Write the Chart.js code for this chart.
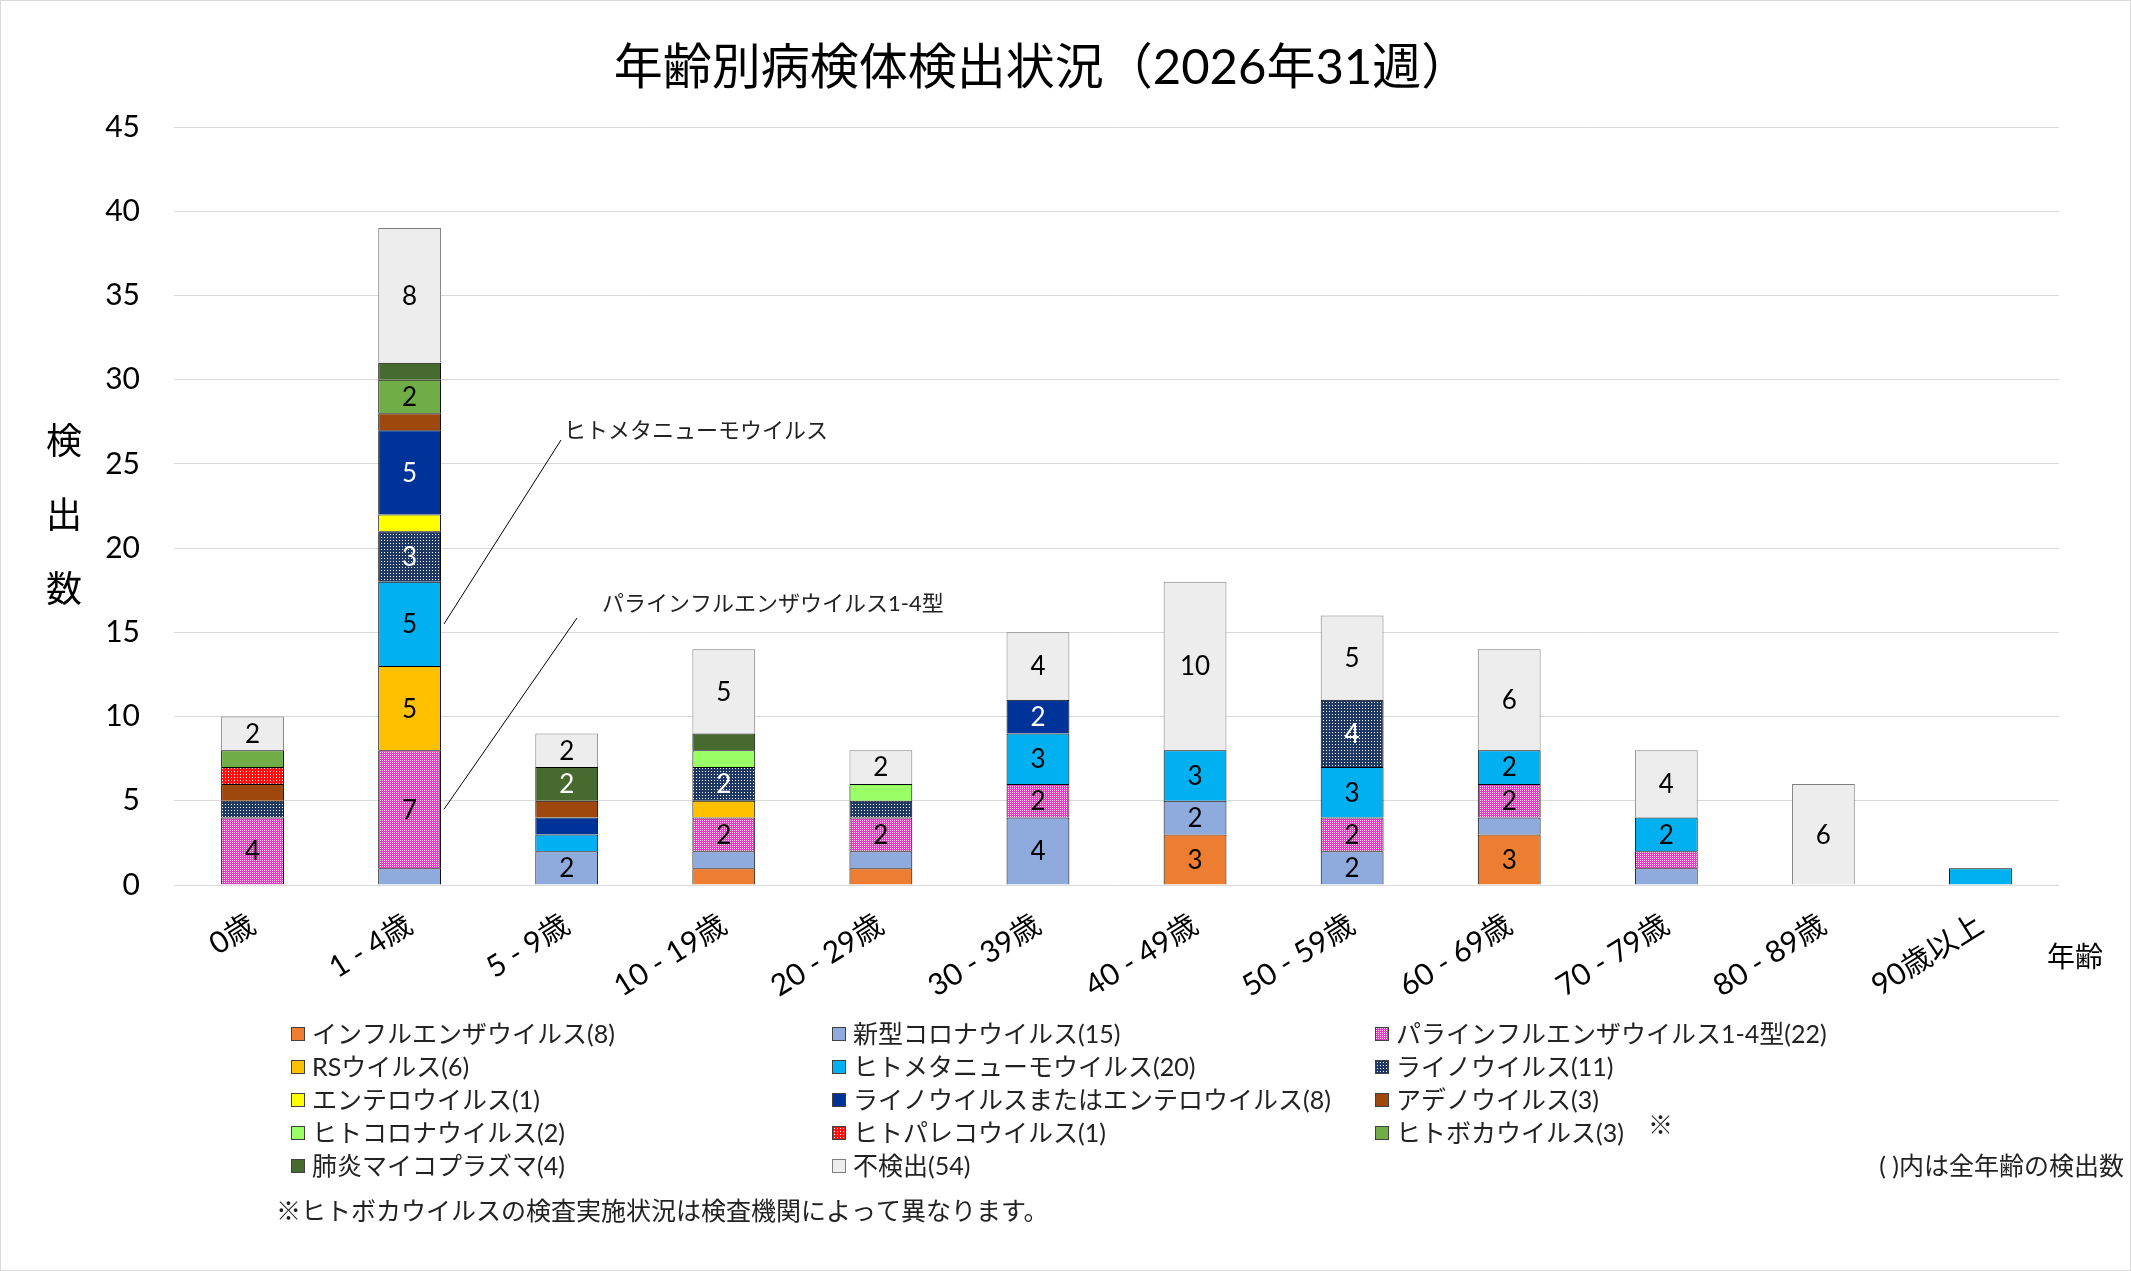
<!DOCTYPE html>
<html><head><meta charset="utf-8">
<script src="https://cdn.jsdelivr.net/npm/chart.js@4.4.1/dist/chart.umd.min.js"></script>
<style>html,body{margin:0;padding:0;background:#fff;}#wrap{position:relative;width:2131px;height:1271px;}</style>
</head><body><div id="wrap"><canvas id="c" width="2131" height="1271"></canvas></div>
<script>
const categories = ['0歳','1 - 4歳','5 - 9歳','10 - 19歳','20 - 29歳','30 - 39歳','40 - 49歳','50 - 59歳','60 - 69歳','70 - 79歳','80 - 89歳','90歳以上'];
const influenza     = [0,0,0,1,1,0,3,0,3,0,0,0];
const covid         = [0,1,2,1,1,4,2,2,1,1,0,0];
const parainfluenza = [4,7,0,2,2,2,0,2,2,1,0,0];
const rsv           = [0,5,0,1,0,0,0,0,0,0,0,0];
const hmpv          = [0,5,1,0,0,3,3,3,2,2,0,1];
const rhino         = [1,3,0,2,1,0,0,4,0,0,0,0];
const entero        = [0,1,0,0,0,0,0,0,0,0,0,0];
const rhinoOrEntero = [0,5,1,0,0,2,0,0,0,0,0,0];
const adeno         = [1,1,1,0,0,0,0,0,0,0,0,0];
const humanCorona   = [0,0,0,1,1,0,0,0,0,0,0,0];
const parecho       = [1,0,0,0,0,0,0,0,0,0,0,0];
const boca          = [1,2,0,0,0,0,0,0,0,0,0,0];
const mycoplasma    = [0,1,2,1,0,0,0,0,0,0,0,0];
const notDetected   = [2,8,2,5,2,4,10,5,6,4,6,0];
const seriesNames = ['インフルエンザウイルス','新型コロナウイルス','パラインフルエンザウイルス1-4型','RSウイルス','ヒトメタニューモウイルス','ライノウイルス','エンテロウイルス','ライノウイルスまたはエンテロウイルス','アデノウイルス','ヒトコロナウイルス','ヒトパレコウイルス','ヒトボカウイルス','肺炎マイコプラズマ','不検出'];
const yTicks = [0,5,10,15,20,25,30,35,40,45];
const titleText = '年齢別病検体検出状況（2026年31週）';
const yTitleChars = ['検','出','数'];
const xTitle = '年齢';
const noteText = '※ヒトボカウイルスの検査実施状況は検査機関によって異なります。';
const noteRight = '( )内は全年齢の検出数';
const annoHmpv = 'ヒトメタニューモウイルス';
const annoPara = 'パラインフルエンザウイルス1-4型';

const FONT = 'Lato, "Noto Sans CJK JP", sans-serif';
const JFONT = '"Noto Sans CJK JP", sans-serif';
const canvas = document.getElementById('c');
const ctx = canvas.getContext('2d');

function pat(base, dot, size, pts){
  const c=document.createElement('canvas'); c.width=c.height=size;
  const x=c.getContext('2d'); x.fillStyle=base; x.fillRect(0,0,size,size);
  x.fillStyle=dot; (pts||[[0,0]]).forEach(p=>x.fillRect(p[0],p[1],1,1));
  return ctx.createPattern(c,'repeat');
}
const seriesData = [influenza,covid,parainfluenza,rsv,hmpv,rhino,entero,rhinoOrEntero,adeno,humanCorona,parecho,boca,mycoplasma,notDetected];
const fills = ['#ED7D31','#8FAADC',pat('#E03CC2','#FFC8F0',2),'#FFC000','#00B0F0',pat('#203864','#FFFFFF',3),'#FFFF00','#003399','#9E480E','#99FF66',pat('#FF1010','#FFFFFF',3),'#70AD47','#476B2E','#EDEDED'];
const borders = seriesNames.map((n,i)=> i===13 ? '#7F7F7F' : '#000000');
const labelColors = seriesNames.map((n,i)=> (i===5||i===7||i===12) ? '#FFFFFF' : '#000000');

const datasets = seriesData.map((d,i)=>({
  label: seriesNames[i], data: d, backgroundColor: fills[i], borderColor: borders[i], borderWidth: 1,
  barPercentage: 0.4, categoryPercentage: 1.0
}));

const drawPlugin = {
  id:'custom',
  afterDatasetsDraw(chart){
    const c = chart.ctx;
    c.save();
    c.font = '26px ' + FONT; c.textAlign='center'; c.textBaseline='middle';
    chart.data.datasets.forEach((ds,i)=>{
      const meta = chart.getDatasetMeta(i);
      meta.data.forEach((el,j)=>{
        const v = ds.data[j];
        if (v >= 2){ c.fillStyle = labelColors[i]; c.fillText(String(v), el.x, (el.y+el.base)/2 + 1); }
      });
    });
    const el1 = chart.getDatasetMeta(4).data[1];
    const el2 = chart.getDatasetMeta(2).data[1];
    c.strokeStyle = '#000'; c.lineWidth = 1;
    c.beginPath();
    c.moveTo(el1.x + el1.width/2 + 3, (el1.y+el1.base)/2);
    c.lineTo(561, 440);
    c.moveTo(el2.x + el2.width/2 + 3, (el2.y+el2.base)/2);
    c.lineTo(577, 618);
    c.stroke();
    c.fillStyle = '#222'; c.font = '22px ' + JFONT; c.textAlign='left'; c.textBaseline='middle';
    c.fillText(annoHmpv, 564, 430);
    c.font = '22px ' + FONT;
    c.fillText(annoPara, 602, 604);
    c.restore();
  },
  afterDraw(chart){
    const c = chart.ctx;
    c.save();
    c.strokeStyle = '#D9D9D9'; c.lineWidth = 1; c.strokeRect(0.5,0.5,2130,1270);
    c.fillStyle = '#000'; c.textAlign='center'; c.textBaseline='middle';
    c.font = '49px ' + FONT; c.fillText(titleText, 1042, 68);
    c.font = '36px ' + JFONT;
    const yy = [440,514,588];
    yTitleChars.forEach((ch,k)=> c.fillText(ch, 64, yy[k]));
    c.font = '28px ' + JFONT; c.fillText(xTitle, 2075, 956);
    const colX = [291, 832, 1375], rowY = [1034,1067,1100,1133,1166];
    c.font = '25px ' + FONT; c.textAlign='left';
    chart.data.datasets.forEach((ds,i)=>{
      const col = i%3, row = Math.floor(i/3);
      const x = colX[col], y = rowY[row];
      c.fillStyle = ds.backgroundColor; c.fillRect(x, y-7, 14, 14);
      c.strokeStyle = i===13 ? '#7F7F7F' : '#404040'; c.strokeRect(x+0.5, y-6.5, 13, 13);
      const total = ds.data.reduce((a,b)=>a+b,0);
      c.fillStyle = '#222';
      c.fillText(ds.label + '(' + total + ')', x+21, y+1);
    });
    c.fillText('※', 1648, 1126);
    c.fillText(noteText, 276, 1212);
    c.textAlign='right'; c.fillText(noteRight, 2124, 1167);
    c.restore();
  }
};

new Chart(canvas, {
  type:'bar',
  data:{ labels: categories, datasets },
  options:{
    responsive:false, devicePixelRatio:1, animation:false,
    layout:{ padding:{ left:0, right:72, top:127, bottom:236 } },
    plugins:{ legend:{display:false}, tooltip:{enabled:false}, title:{display:false} },
    scales:{
      x:{ stacked:true, grid:{display:false}, border:{display:false},
          ticks:{ font:{size:30, family:FONT}, color:'#000', minRotation:32, maxRotation:32, padding:14, autoSkip:false },
          afterFit(s){ s.height = 150; } },
      y:{ stacked:true, min:0, max:45, afterBuildTicks(s){ s.ticks = yTicks.map(v=>({value:v})); },
          grid:{ color:'#D9D9D9', drawTicks:false }, border:{display:false},
          ticks:{ font:{size:30, family:FONT}, color:'#000', padding:34 },
          afterFit(s){ s.width = 174; } }
    }
  },
  plugins:[drawPlugin]
});
</script></body></html>
